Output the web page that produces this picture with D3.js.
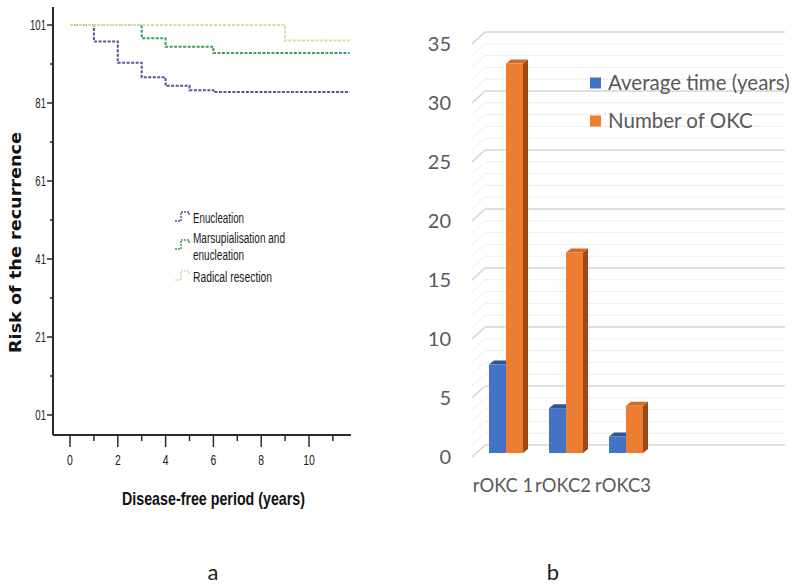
<!DOCTYPE html>
<html><head><meta charset="utf-8">
<script src="https://cdn.jsdelivr.net/npm/d3@7"></script>
<style>
body{margin:0;background:#fff;}
svg{display:block;}
.narrow{font-family:"Liberation Sans Narrow","Arial Narrow","Liberation Sans",Arial,sans-serif;}
.cal{font-family:Lato,"Open Sans",sans-serif;}
</style></head>
<body>
<svg id="chart" width="799" height="585"></svg>
<script>
// ---------- Panel a: Kaplan-Meier data ----------
const kmGroups = ["Enucleation", "Marsupialisation and enucleation", "Radical resection"];
const enucTimes = [0, 1, 2, 3, 4, 5, 6, 11.7];
const enucRisk  = [101, 96.8, 91.3, 87.6, 85.4, 84.3, 83.8, 83.8];
const marsTimes = [0, 3, 4, 6, 11.7];
const marsRisk  = [101, 97.6, 95.4, 93.8, 93.8];
const radTimes  = [0, 9, 11.7];
const radRisk   = [101, 97.0, 97.0];
const kmYTicks = [1, 21, 41, 61, 81, 101];
const kmYMinor = [11, 31, 51, 71, 91];
const kmXTicks = [0, 2, 4, 6, 8, 10];
const kmXMinor = [1, 3, 5, 7, 9, 11];

// ---------- Panel b: bar data ----------
const barCategories = ["rOKC 1", "rOKC2", "rOKC3"];
const barSeries = ["Average time (years)", "Number of OKC"];
const avgTime = [7.5, 3.8, 1.4];
const numOKC = [33, 17, 4];
const barYTicks = [0, 5, 10, 15, 20, 25, 30, 35];

const svg = d3.select("#chart");

function squeeze(sel, ratio) {
  sel.each(function () {
    const L = this.getComputedTextLength();
    d3.select(this).attr("textLength", L * ratio).attr("lengthAdjust", "spacingAndGlyphs");
  });
}
function fitTo(sel, w) {
  sel.attr("textLength", w).attr("lengthAdjust", "spacingAndGlyphs");
}

// ===== Panel a =====
const ga = svg.append("g");
const xA = d3.scaleLinear().domain([0, 10]).range([70, 309]);
const yA = d3.scaleLinear().domain([1, 101]).range([415, 25]);
const axColor = "#2b2b2b";

ga.append("line").attr("x1", 53).attr("x2", 53).attr("y1", 7).attr("y2", 435)
  .attr("stroke", axColor).attr("stroke-width", 2);
ga.append("line").attr("x1", 53).attr("x2", 351).attr("y1", 435).attr("y2", 435)
  .attr("stroke", axColor).attr("stroke-width", 2);

ga.selectAll(".yt").data(kmYTicks).join("line")
  .attr("x1", 47).attr("x2", 53).attr("y1", d => yA(d)).attr("y2", d => yA(d))
  .attr("stroke", axColor).attr("stroke-width", 1.5);
ga.selectAll(".ym").data(kmYMinor).join("line")
  .attr("x1", 50).attr("x2", 53).attr("y1", d => yA(d)).attr("y2", d => yA(d))
  .attr("stroke", axColor).attr("stroke-width", 1.5);
const ytl = ga.selectAll(".ytl").data(kmYTicks).join("text").attr("class", "narrow")
  .attr("x", 46).attr("y", d => yA(d)).attr("dy", "0.36em")
  .attr("text-anchor", "end").attr("font-size", 14.5).attr("fill", "#222")
  .text(d => d < 10 ? "0" + d : d);
squeeze(ytl, 0.66);

ga.selectAll(".xt").data(kmXTicks).join("line")
  .attr("x1", d => xA(d)).attr("x2", d => xA(d)).attr("y1", 435).attr("y2", 447)
  .attr("stroke", axColor).attr("stroke-width", 1.5);
ga.selectAll(".xm").data(kmXMinor).join("line")
  .attr("x1", d => xA(d)).attr("x2", d => xA(d)).attr("y1", 435).attr("y2", 441)
  .attr("stroke", axColor).attr("stroke-width", 1.5);
const xtl = ga.selectAll(".xtl").data(kmXTicks).join("text").attr("class", "narrow")
  .attr("x", d => xA(d)).attr("y", 460).attr("dy", "0.36em")
  .attr("text-anchor", "middle").attr("font-size", 14.5).attr("fill", "#222")
  .text(d => d);
squeeze(xtl, 0.72);

const xt = ga.append("text").attr("class", "narrow")
  .attr("x", 122).attr("y", 498).attr("dy", "0.36em")
  .attr("font-size", 18.5).attr("font-weight", "bold").attr("fill", "#111")
  .text("Disease-free period (years)");
fitTo(xt, 183);
const yt = ga.append("text")
  .attr("transform", "translate(15,353) rotate(-90)")
  .attr("dy", "0.36em")
  .attr("font-family", "'DejaVu Sans', sans-serif")
  .attr("font-size", 16.5).attr("font-weight", "bold").attr("fill", "#111")
  .text("Risk of the recurrence");
fitTo(yt, 221);

const kmColors = ["#52579c", "#3e9c5c", "#d9dca6"];
const kmData = [
  enucTimes.map((t, i) => [t, enucRisk[i]]),
  marsTimes.map((t, i) => [t, marsRisk[i]]),
  radTimes.map((t, i) => [t, radRisk[i]])
];
const kmLine = d3.line().x(d => xA(d[0])).y(d => yA(d[1])).curve(d3.curveStepAfter);
[0, 1, 2].forEach(i => {
  ga.append("path").attr("d", kmLine(kmData[i])).attr("fill", "none")
    .attr("stroke", kmColors[i]).attr("stroke-width", 2)
    .attr("stroke-dasharray", "3,1.5");
});

// legend
const legY = [218, 246, 277];
const legText = [["Enucleation"], ["Marsupialisation and", "enucleation"], ["Radical resection"]];
const legTextY = [[218], [238, 255], [277]];
const legW = [[51], [92, 51], [79]];
[0, 1, 2].forEach(i => {
  const y = legY[i];
  ga.append("path")
    .attr("d", `M175,${y + 3}H181V${y - 6}H189V${y - 3}`)
    .attr("fill", "none").attr("stroke", kmColors[i]).attr("stroke-width", 1.5)
    .attr("stroke-dasharray", "2,1");
  legText[i].forEach((t, j) => {
    const tt = ga.append("text").attr("class", "narrow")
      .attr("x", 193).attr("y", legTextY[i][j]).attr("dy", "0.36em")
      .attr("font-size", 14).attr("fill", "#1a1a1a").text(t);
    fitTo(tt, legW[i][j]);
  });
});

ga.append("text").attr("class", "cal").attr("x", 213).attr("y", 572).attr("dy", "0.35em")
  .attr("text-anchor", "middle").attr("font-size", 22).attr("fill", "#222").text("a");

// ===== Panel b =====
const gb = svg.append("g");
const yB = d3.scaleLinear().domain([0, 35]).range([457, 457 - 35 * 11.8]);
const backDx = 13, backDy = -12;
const frontX = 472, plotW = 300;
const barDx = 4, barDy = -4;
const depthDx = 5, depthDy = -4;
const allTicks = d3.range(0, 36);

allTicks.forEach(v => {
  const major = v % 5 === 0;
  const col = major ? "#d4d4d4" : "#ededed";
  const sw = major ? 1.6 : 1;
  gb.append("line")
    .attr("x1", frontX).attr("y1", yB(v)).attr("x2", frontX + backDx).attr("y2", yB(v) + backDy)
    .attr("stroke", col).attr("stroke-width", sw);
  gb.append("line")
    .attr("x1", frontX + backDx).attr("y1", yB(v) + backDy)
    .attr("x2", frontX + backDx + plotW).attr("y2", yB(v) + backDy)
    .attr("stroke", col).attr("stroke-width", sw);
});

gb.selectAll(".byl").data(barYTicks).join("text").attr("class", "cal")
  .attr("x", 451).attr("y", d => yB(d)).attr("dy", "0.35em")
  .attr("text-anchor", "end").attr("font-size", 20).attr("fill", "#595959")
  .text(d => d);

const xB = d3.scaleBand().domain(barCategories).range([frontX + barDx, frontX + barDx + 180]);
const xInner = d3.scaleBand().domain(barSeries).range([0, 34]);
const fronts = ["#4472c4", "#ed7d31"];
const tops = ["#2f5597", "#d36a26"];
const sides = ["#264478", "#9e4a17"];
const seriesVals = [avgTime, numOKC];
barCategories.forEach((c, ci) => {
  barSeries.forEach((s, si) => {
    const v = seriesVals[si][ci];
    const bx = xB(c) + (xB.bandwidth() - 34) / 2 + xInner(s);
    const w = xInner.bandwidth();
    const ytp = yB(v) + barDy, yb = yB(0) + barDy;
    gb.append("polygon")
      .attr("points", [[bx + w, ytp], [bx + w + depthDx, ytp + depthDy], [bx + w + depthDx, yb + depthDy], [bx + w, yb]].join(" "))
      .attr("fill", sides[si]);
    gb.append("polygon")
      .attr("points", [[bx, ytp], [bx + w, ytp], [bx + w + depthDx, ytp + depthDy], [bx + depthDx, ytp + depthDy]].join(" "))
      .attr("fill", tops[si]);
    gb.append("rect").attr("x", bx).attr("y", ytp).attr("width", w).attr("height", yb - ytp)
      .attr("fill", fronts[si]);
  });
});

const bcl = gb.selectAll(".bcl").data(barCategories).join("text").attr("class", "cal")
  .attr("x", d => xB(d) + xB.bandwidth() / 2 - 3).attr("y", 485).attr("dy", "0.35em")
  .attr("text-anchor", "middle").attr("font-size", 20).attr("fill", "#595959")
  .text(d => d);
squeeze(bcl, 0.92);

const bLegY = [83, 121];
barSeries.forEach((s, i) => {
  gb.append("rect").attr("x", 590).attr("y", bLegY[i] - 5.5).attr("width", 11).attr("height", 11)
    .attr("fill", fronts[i]);
  gb.append("text").attr("class", "cal").attr("x", 608).attr("y", bLegY[i]).attr("dy", "0.35em")
    .attr("font-size", 20.5).attr("fill", "#595959").text(s);
});

gb.append("text").attr("class", "cal").attr("x", 553).attr("y", 572).attr("dy", "0.35em")
  .attr("text-anchor", "middle").attr("font-size", 22).attr("fill", "#222").text("b");
</script>
</body></html>
